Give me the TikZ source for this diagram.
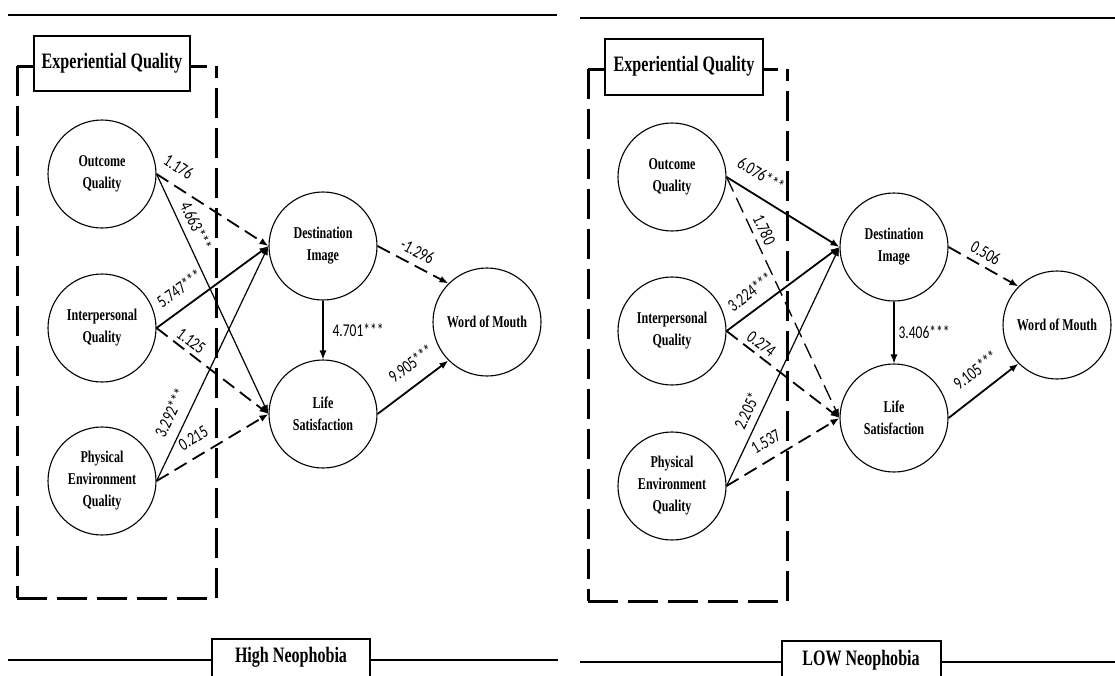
\documentclass[tikz,border=0pt]{standalone}
\usepackage{fontspec}
\usetikzlibrary{arrows.meta}
\newfontfamily\tnrfam[FakeStretch=0.73]{Liberation Serif}
\newfontfamily\calfam[FakeStretch=0.75]{Carlito}
\newcommand\eqCirc{\tnrfam\bfseries\fontsize{16.5}{22}\selectfont}
\newcommand\eqBox{\tnrfam\bfseries\fontsize{22}{26}\selectfont}
\newcommand\eqNum{\calfam\fontsize{18}{20}\selectfont}
\tikzset{
  lat/.style={circle, draw, line width=1.1pt, minimum size=108pt, inner sep=0pt, align=center, font=\eqCirc},
  hdr/.style={draw, line width=1.2pt, fill=white},
  hdrtext/.style={font=\eqBox, inner sep=0pt},
  tip/.style={-{Latex[length=9pt,width=7pt]}},
  sol/.style={tip, line width=1.8pt},
  solthin/.style={tip, line width=1.2pt},
  dsh/.style={tip, line width=1.8pt, dash pattern=on 14pt off 7pt},
  dshthin/.style={tip, line width=1.3pt, dash pattern=on 16pt off 7pt},
  lab/.style={font=\eqNum, inner sep=1pt, sloped},
  labr/.style={font=\eqNum, inner sep=1pt},
  grp/.style={line width=3pt, dash pattern=on 30pt off 10pt},
  rulel/.style={line width=2.2pt},
}
\begin{document}
\begin{tikzpicture}[x=1pt,y=-1pt]
\useasboundingbox (0,0) rectangle (1115,675);
\clip (0,0) rectangle (1115,675);
\fill[white] (0,0) rectangle (1115,675);

% ================= LEFT PANEL =================
\draw[rulel] (8,15) -- (557,15);
\draw[grp] (17,66) -- (17,598);
\draw[grp] (17,598) -- (216,598);
\draw[grp] (216,598) -- (216,66);
\draw[grp] (17,66) -- (216,66);
\draw[hdr] (34,36) rectangle (190,91);
\node[hdrtext] (eq1) at (112,63) {Experiential Quality};

\draw[line width=2pt] (8,660) -- (558,660);
\draw[hdr] (212,639) rectangle (370,700);
\node[hdrtext] (hn) at (291,657) {High Neophobia};

\node[lat] (o1) at (102,174) {Outcome\\Quality};
\node[lat] (i1) at (102,328) {Interpersonal\\Quality};
\node[lat] (p1) at (102,481) {Physical\\Environment\\Quality};
\node[lat] (d1) at (323,246) {Destination\\Image};
\node[lat] (l1) at (323,414) {Life\\Satisfaction};
\node[lat] (w1) at (487,322) {Word of Mouth};

\draw[dsh] (o1.east) -- node[lab, pos=.11, above=10pt] {1.176} (d1.west);
\draw[solthin] (o1.east) -- node[lab, pos=.24, above=6pt] {4.663***} (l1.west);
\draw[sol] (i1.east) -- node[lab, pos=.30, above=10pt] {5.747***} (d1.west);
\draw[dsh] (i1.east) -- node[lab, pos=.25, above=3pt] {1.125} (l1.west);
\draw[solthin] (p1.east) -- node[lab, pos=.26, above=9pt] {3.292***} (d1.west);
\draw[dsh] (p1.east) -- node[lab, pos=.41, above=10pt] {0.215} (l1.west);
\draw[dsh] (d1.east) -- node[lab, pos=.47, above=6pt] {-1.296} (w1.135);
\draw[solthin] (d1.south) -- node[labr, right=8pt] {4.701***} (l1.north);
\draw[sol] (l1.east) -- node[lab, pos=.64, above=12pt] {9.905***} (w1.225);

% ================= RIGHT PANEL =================
\draw[rulel] (580,18) -- (1115,18);
\draw[grp] (588,69) -- (588,601);
\draw[grp] (588,601) -- (787,601);
\draw[grp] (787,601) -- (787,69);
\draw[grp] (588,69) -- (787,69);
\draw[hdr] (605,39) rectangle (763,95);
\node[hdrtext] (eq2) at (684,66) {Experiential Quality};

\draw[line width=2pt] (580,662) -- (1115,662);
\draw[hdr] (782,641) rectangle (941,700);
\node[hdrtext] (ln) at (861,660) {LOW Neophobia};

\node[lat] (o2) at (672,177) {Outcome\\Quality};
\node[lat] (i2) at (672,331) {Interpersonal\\Quality};
\node[lat] (p2) at (672,486) {Physical\\Environment\\Quality};
\node[lat] (d2) at (894,247) {Destination\\Image};
\node[lat] (l2) at (894,418) {Life\\Satisfaction};
\node[lat] (w2) at (1057,325) {Word of Mouth};

\draw[sol] (o2.east) -- node[lab, pos=.21, above=12pt] {6.076***} (d2.west);
\draw[dshthin] (o2.east) -- node[lab, pos=.24, above=4pt] {1.780} (l2.west);
\draw[sol] (i2.east) -- node[lab, pos=.30, above=9pt] {3.224***} (d2.west);
\draw[dsh] (i2.east) -- node[lab, pos=.25, above=3pt] {0.274} (l2.west);
\draw[solthin] (p2.east) -- node[lab, pos=.29, above=6pt] {2.205*} (d2.west);
\draw[dsh] (p2.east) -- node[lab, pos=.43, above=10pt] {1.537} (l2.west);
\draw[dsh] (d2.east) -- node[lab, pos=.44, above=5pt] {0.506} (w2.135);
\draw[solthin] (d2.south) -- node[labr, right=3pt] {3.406***} (l2.north);
\draw[sol] (l2.east) -- node[lab, pos=.57, above=13pt] {9.105***} (w2.225);
\end{tikzpicture}
\end{document}
